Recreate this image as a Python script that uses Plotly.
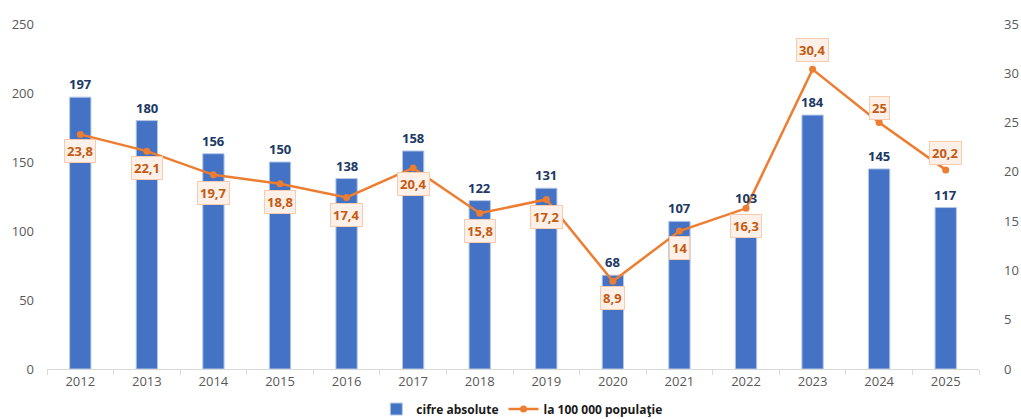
import plotly.graph_objects as go

years = ["2012", "2013", "2014", "2015", "2016", "2017", "2018", "2019", "2020", "2021", "2022", "2023", "2024", "2025"]
absolute = [197, 180, 156, 150, 138, 158, 122, 131, 68, 107, 103, 184, 145, 117]
rate = [23.8, 22.1, 19.7, 18.8, 17.4, 20.4, 15.8, 17.2, 8.9, 14, 16.3, 30.4, 25, 20.2]
rate_text = ["23,8", "22,1", "19,7", "18,8", "17,4", "20,4", "15,8", "17,2", "8,9", "14", "16,3", "30,4", "25", "20,2"]

# label vertical offsets in px (layout only)
rate_label_shift = [-17, -17, -18, -18, -18, -16, -18, -18, -17, -17, -18, 19, 15, 17]
bar_label_shift = [13, 13, 13, 13, 13, 13, 13, 13, 13, 13, 29, 13, 13, 13]

font_family = "Open Sans, Noto Sans, sans-serif"

fig = go.Figure()
fig.add_trace(go.Bar(
    x=years, y=absolute, name="cifre absolute",
    marker=dict(color="#4472C4", line=dict(color="#B4C7E7", width=1)),
))
fig.add_trace(go.Scatter(
    x=years, y=rate, name="la 100 000 populaţie", yaxis="y2",
    mode="lines+markers",
    line=dict(color="#ED7D31", width=2.5),
    marker=dict(color="#ED7D31", size=7),
))

# bar value labels (category axis: x given as category index)
for i, (v, s) in enumerate(zip(absolute, bar_label_shift)):
    fig.add_annotation(
        x=i, y=v, xref="x", yref="y", text=str(v), showarrow=False, yshift=s,
        font=dict(family=font_family, size=13, color="#203864", weight="bold"),
    )

# rate labels in boxes
for i, (v, t, s) in enumerate(zip(rate, rate_text, rate_label_shift)):
    fig.add_annotation(
        x=i, y=v, xref="x", yref="y2", text=t, showarrow=False, yshift=s,
        font=dict(family=font_family, size=13, color="#C55A11", weight="bold"),
        bgcolor="#FDF0E8", bordercolor="#F8CBAD", borderwidth=1, borderpad=2,
    )

fig.update_layout(
    width=1021, height=419,
    margin=dict(l=47, r=42, t=24, b=50, autoexpand=False),
    paper_bgcolor="white", plot_bgcolor="white",
    bargap=0.68,
    font=dict(family=font_family, size=13, color="#595959"),
    showlegend=True,
    legend=dict(orientation="h", x=0.51, xanchor="center",
                y=-0.116, yanchor="middle",
                font=dict(family=font_family, size=12, color="#1a1a1a", weight="bold"),
                itemwidth=30, tracegroupgap=0),
    xaxis=dict(type="category", range=[-0.5, len(years) - 0.5],
               showgrid=False, showline=True, linecolor="#D9D9D9",
               ticks="outside", tickson="boundaries", ticklen=5, tickcolor="#D9D9D9",
               tickfont=dict(size=13, color="#595959"), automargin=False),
    yaxis=dict(range=[0, 250], dtick=50, showgrid=False, zeroline=False, showline=False,
               tickfont=dict(size=13, color="#595959"), ticklabelstandoff=12, automargin=False),
    yaxis2=dict(range=[0, 35], dtick=5, overlaying="y", side="right", showgrid=False,
                zeroline=False, showline=False, automargin=False,
                tickfont=dict(size=13, color="#595959"), ticklabelstandoff=24),
)

fig.write_html("out.html")
